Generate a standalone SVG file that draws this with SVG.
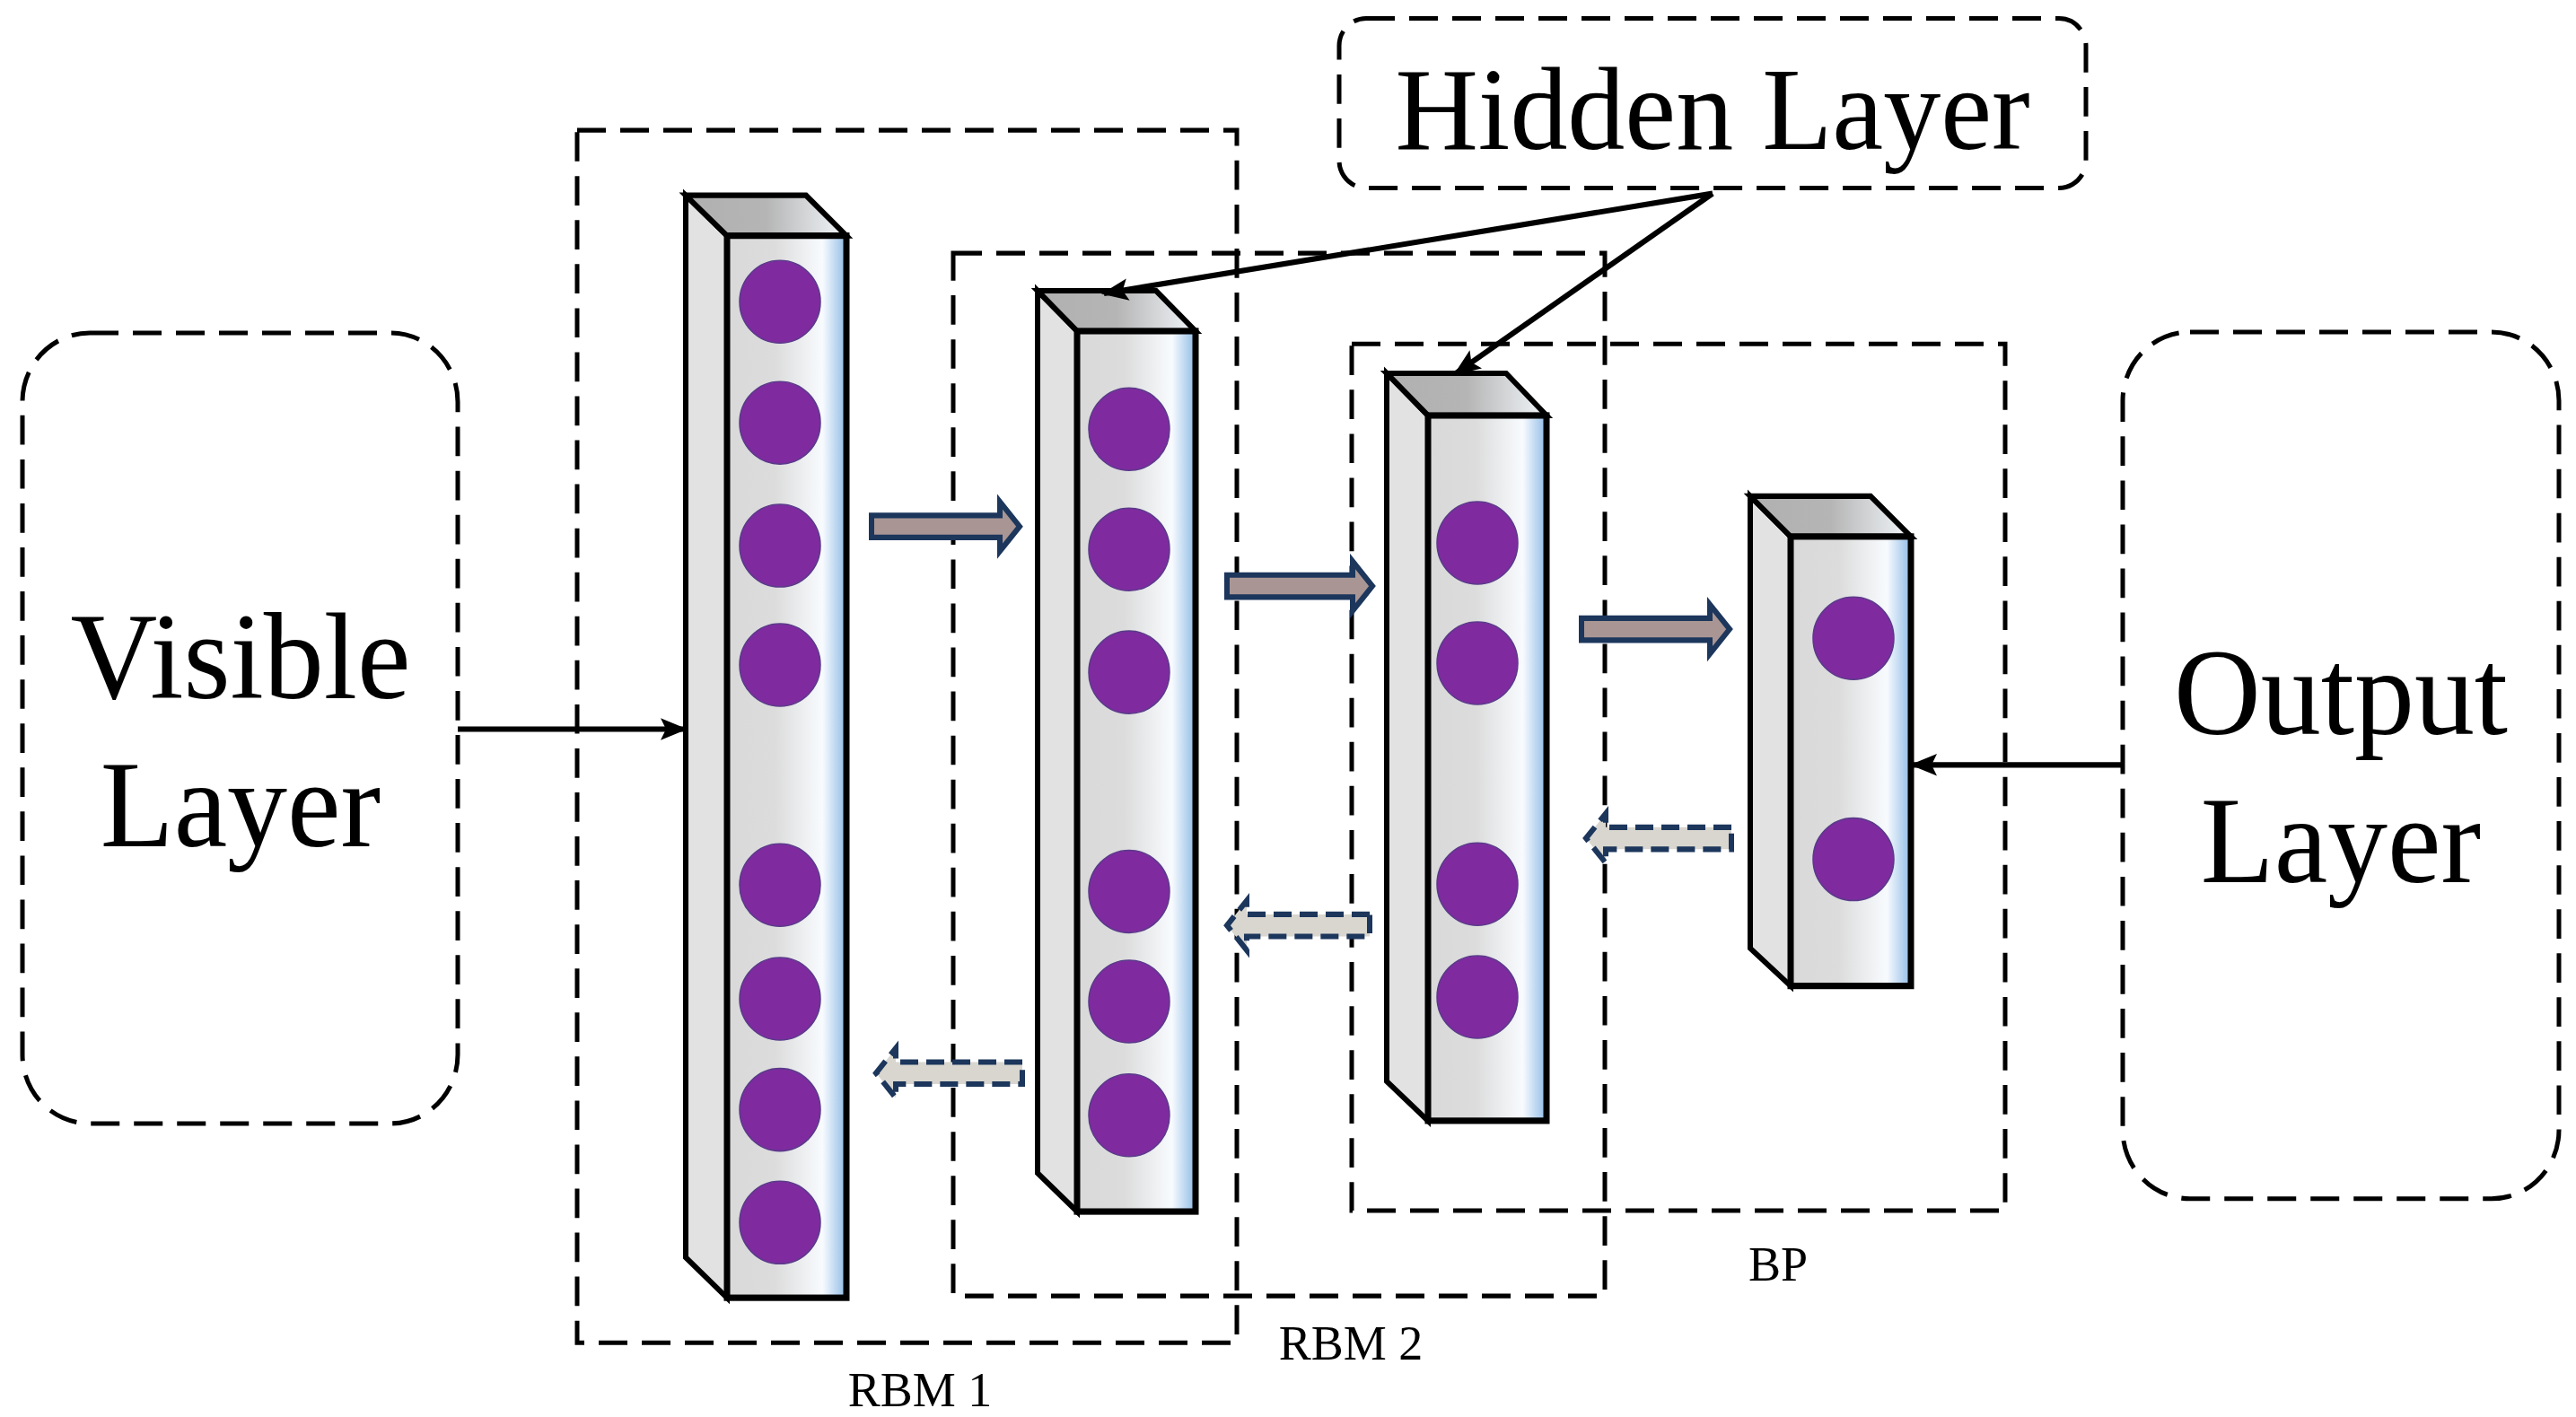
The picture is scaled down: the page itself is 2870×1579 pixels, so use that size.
<svg xmlns="http://www.w3.org/2000/svg" width="2870" height="1579" viewBox="0 0 2870 1579">
<defs>
<linearGradient id="front" x1="0" y1="0" x2="1" y2="0">
<stop offset="0" stop-color="#d9d9d9"/><stop offset="0.4" stop-color="#dcdcdc"/><stop offset="0.8" stop-color="#f8fbfe"/><stop offset="1" stop-color="#8fbbe6"/>
</linearGradient>
<linearGradient id="top" x1="0" y1="0" x2="1" y2="0">
<stop offset="0" stop-color="#b0b0b0"/><stop offset="0.5" stop-color="#b5b5b5"/><stop offset="1" stop-color="#f2f6fa"/>
</linearGradient>
<marker id="ah" viewBox="0 0 10 10" refX="9" refY="5" markerWidth="5" markerHeight="5" orient="auto" markerUnits="strokeWidth">
<path d="M0,1 L10,5 L0,9 L2,5 Z" fill="#000"/>
</marker>
</defs>
<style>
.dbox{fill:none;stroke:#000;stroke-width:5;stroke-dasharray:32 16}
.side{fill:#e2e2e2;stroke:#000;stroke-width:6;stroke-linejoin:miter}
.top{fill:url(#top);stroke:#000;stroke-width:6}
.front{fill:url(#front);stroke:#000;stroke-width:7}
.n{fill:#7f2b9f;stroke:#5a3a8a;stroke-width:1.5}
.big{font-family:"Liberation Serif",serif;font-size:134px;fill:#000;text-anchor:middle}
.sm{font-family:"Liberation Serif",serif;font-size:54px;fill:#000;text-anchor:middle}
.fw{fill:#a99694;stroke:#1c365c;stroke-width:6}
.bw{fill:#d8d6cf;stroke:#1c365c;stroke-width:6;stroke-dasharray:20 9}
.con{stroke:#000;stroke-width:6;fill:none}
</style>
<g transform="scale(1,1.022)">
<g id="visible-layer">
<rect class="dbox" x="25" y="363" width="485" height="862" rx="75"/>
<text class="big" x="268" y="761">Visible</text>
<text class="big" x="268" y="923">Layer</text>
</g>
<g id="output-layer">
<rect class="dbox" x="2365" y="362" width="486" height="945" rx="75"/>
<text class="big" x="2608" y="800">Output</text>
<text class="big" x="2608" y="962">Layer</text>
</g>
<g id="hidden-layer">
<rect class="dbox" x="1492" y="20" width="832" height="185" rx="30"/>
<text class="big" x="1908" y="162" style="font-size:128px">Hidden Layer</text>
</g>
<g id="rbm1"><rect class="dbox" x="643" y="142" width="735" height="1322"/><text class="sm" x="1025" y="1533">RBM 1</text></g>
<g id="rbm2"><rect class="dbox" x="1062" y="276" width="726" height="1137"/><text class="sm" x="1505" y="1482">RBM 2</text></g>
<g id="bp"><rect class="dbox" x="1506" y="375" width="728" height="945"/><text class="sm" x="1981" y="1396">BP</text></g>
<g id="col1">
<polygon class="side" points="764,213 810,257 810,1415 764,1371"/>
<polygon class="top" points="764,213 898,213 943,257 810,257"/>
<rect class="front" x="810" y="257" width="133" height="1158"/>
<circle class="n" cx="869" cy="329" r="45"/><circle class="n" cx="869" cy="461" r="45"/><circle class="n" cx="869" cy="595" r="45"/><circle class="n" cx="869" cy="725" r="45"/>
<circle class="n" cx="869" cy="965" r="45"/><circle class="n" cx="869" cy="1089" r="45"/><circle class="n" cx="869" cy="1210" r="45"/><circle class="n" cx="869" cy="1333" r="45"/>
</g>
<g id="col2">
<polygon class="side" points="1156,317 1200,361 1200,1321 1156,1279"/>
<polygon class="top" points="1156,317 1288,317 1332,361 1200,361"/>
<rect class="front" x="1200" y="361" width="132" height="960"/>
<circle class="n" cx="1258" cy="468" r="45"/><circle class="n" cx="1258" cy="599" r="45"/><circle class="n" cx="1258" cy="733" r="45"/>
<circle class="n" cx="1258" cy="972" r="45"/><circle class="n" cx="1258" cy="1092" r="45"/><circle class="n" cx="1258" cy="1216" r="45"/>
</g>
<g id="col3">
<polygon class="side" points="1545,407 1591,453 1591,1222 1545,1179"/>
<polygon class="top" points="1545,407 1678,407 1723,453 1591,453"/>
<rect class="front" x="1591" y="453" width="132" height="769"/>
<circle class="n" cx="1646" cy="592" r="45"/><circle class="n" cx="1646" cy="723" r="45"/>
<circle class="n" cx="1646" cy="964" r="45"/><circle class="n" cx="1646" cy="1087" r="45"/>
</g>
<g id="col4">
<polygon class="side" points="1950,541 1995,585 1995,1075 1950,1034"/>
<polygon class="top" points="1950,541 2084,541 2129,585 1995,585"/>
<rect class="front" x="1995" y="585" width="134" height="490"/>
<circle class="n" cx="2065" cy="696" r="45"/><circle class="n" cx="2065" cy="937" r="45"/>
</g>
<g id="connectors">
<line class="con" x1="510" y1="795" x2="763" y2="795" marker-end="url(#ah)"/>
<line class="con" x1="2365" y1="834" x2="2131" y2="834" marker-end="url(#ah)"/>
<line class="con" x1="1908" y1="211" x2="1230" y2="320" marker-end="url(#ah)"/>
<line class="con" x1="1908" y1="211" x2="1622" y2="407" marker-end="url(#ah)"/>
<path class="fw" d="M971,562 L1114,562 L1114,547 L1136,574 L1114,601 L1114,586 L971,586 Z"/>
<path class="fw" d="M1367,627 L1507,627 L1507,612 L1529,639 L1507,666 L1507,651 L1367,651 Z"/>
<path class="fw" d="M1762,674 L1905,674 L1905,659 L1927,686 L1905,713 L1905,698 L1762,698 Z"/>
<path class="bw" d="M1139,1158 L998,1158 L998,1143 L976,1170 L998,1197 L998,1182 L1139,1182 Z"/>
<path class="bw" d="M1526,997 L1389,997 L1389,982 L1367,1009 L1389,1036 L1389,1021 L1526,1021 Z"/>
<path class="bw" d="M1929,902 L1789,902 L1789,887 L1767,914 L1789,941 L1789,926 L1929,926 Z"/>
</g>
</g>
</svg>
